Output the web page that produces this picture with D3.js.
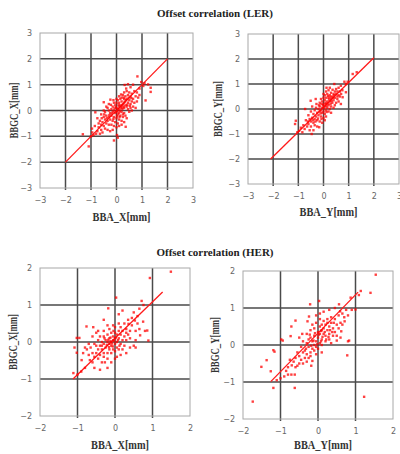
<!DOCTYPE html>
<html><head><meta charset="utf-8">
<script src="https://cdn.jsdelivr.net/npm/d3@7"></script>
<style>body{margin:0;background:#fff}svg{display:block}</style>
</head><body>
<script>
const titles = ["Offset correlation (LER)", "Offset correlation (HER)"];
const ticksLER = [-3,-2,-1,0,1,2,3];
const ticksHER = [-2,-1,0,1,2];
const xLabels = ["BBA_X[mm]", "BBA_Y[mm]", "BBA_X[mm]", "BBA_Y[mm]"];
const yLabels = ["BBGC_X[mm]", "BBGC_Y[mm]", "BBGC_X[mm]", "BBGC_Y[mm]"];
const fitLines = [
  [[-2,-2],[2,2]],
  [[-2.1,-2.0],[2.0,2.05]],
  [[-1.12,-1.0],[1.27,1.35]],
  [[-1.26,-0.99],[1.07,1.43]]
];
const lerX = [[0.82,1.32],[0.97,1.1],[1.24,1.01],[1.34,0.88],[1.34,0.72],[1.14,0.39],[0.32,0.99],[-1.32,-0.92],[-1.09,-1.39],[-0.1,-1.16],[-0.96,-0.7],[-0.83,-0.07],[-0.5,0.32],[-0.24,0.42],[0.05,-1.05],[0.02,-0.95],[1.05,0.95],[0.9,0.85],[1.1,1.05],[0.65,1.0],[0.45,1.02],[0.55,0.9],[0.38,0.85],
[0.7,0.75],[0.8,0.7],[0.6,0.65],[0.75,0.55],[0.5,0.7],[0.85,0.5],[0.65,0.45],[0.55,0.55],[0.45,0.6],[0.4,0.75],[0.3,0.7],[0.35,0.55],[0.6,0.35],[0.7,0.3],[0.5,0.4],[0.45,0.3],[0.8,0.35],[0.25,0.6],[0.2,0.5],[0.3,0.45],[0.4,0.45],[0.55,0.25],[0.65,0.15],[0.75,0.1],[0.9,0.6],
[0.1,0.3],[0.15,0.2],[0.2,0.35],[0.25,0.25],[0.3,0.3],[0.35,0.2],[0.4,0.15],[0.45,0.05],[0.3,0.1],[0.2,0.1],[0.1,0.15],[0.05,0.05],[0.0,0.1],[-0.05,0.2],[0.0,0.3],[0.05,0.4],[0.15,0.45],[0.1,0.55],[-0.1,0.3],[-0.15,0.15],[-0.2,0.05],[-0.1,0.0],[0.0,-0.05],[0.1,-0.1],[0.2,-0.05],[0.3,-0.1],[0.35,-0.2],[0.25,-0.25],[0.15,-0.2],[0.05,-0.15],[-0.05,-0.1],[-0.15,-0.05],[-0.25,-0.1],[-0.3,0.0],[-0.35,0.1],[-0.2,-0.2],[-0.1,-0.25],[0.0,-0.3],[0.1,-0.35],[0.2,-0.4],[-0.3,-0.25],[-0.4,-0.2],[-0.45,-0.05],[-0.25,-0.35],[-0.15,-0.4],[-0.05,-0.45],[0.05,-0.5],[-0.35,-0.4],[-0.45,-0.35],[-0.5,-0.25],[-0.55,-0.45],[-0.4,-0.5],[-0.3,-0.55],[-0.2,-0.55],[-0.1,-0.6],[0.0,-0.65],[0.1,-0.6],[0.2,-0.55],[0.3,-0.45],[0.36,-0.63],[-0.6,-0.55],[-0.65,-0.4],[-0.5,-0.6],[-0.45,-0.7],[-0.7,-0.65],[-0.6,-0.75],[-0.75,-0.8],[-0.8,-0.9],[-0.65,-0.9],[-0.55,-0.85],[-0.35,-0.75],[-0.25,-0.8],[-0.15,-0.75],[-0.85,-0.6],[-0.7,-0.5],[-0.75,-0.3],[-0.6,-0.15],[-0.5,0.0],[-0.4,0.15],[-0.3,0.25],[0.5,-0.05],[0.55,0.1],[0.6,0.0],[0.4,-0.3],[0.12,0.05],[0.18,0.15],[0.22,0.2],[0.28,0.15],[0.08,0.22],[-0.02,0.12],[0.03,-0.02],[0.13,-0.02],[0.23,0.05],[0.33,0.35],[0.38,0.4],[0.28,0.5],[0.18,0.62],[0.48,0.5],[0.58,0.48],[0.52,0.18],[0.42,0.22],[-0.08,0.08],[-0.18,-0.12],[-0.28,-0.18],[-0.12,-0.32],[0.02,-0.22],[0.12,-0.25],[0.25,-0.15],[-0.38,-0.3],[-0.48,-0.15],[-0.58,-0.3],[-0.22,0.22],[-0.12,0.4],[0.0,0.45],[-1.0,-1.0],[-0.9,-0.95],[-0.95,-0.85]];
const lerY = [[1.16,1.4],[1.32,1.47],[0.83,1.09],[0.96,1.09],[0.89,1.0],[0.69,0.93],[0.43,1.0],[0.36,0.77],[0.89,0.67],[0.76,0.47],[0.69,0.2],[-1.1,-0.47],[-1.13,-0.6],[-0.97,-0.87],[-1.04,-0.93],[-0.84,-0.93],[-0.47,-1.0],[-0.17,-0.73],[-0.73,0.0],[-0.51,0.33],[-0.31,0.4],
[0.6,0.85],[0.5,0.8],[0.55,0.7],[0.65,0.7],[0.7,0.6],[0.6,0.55],[0.5,0.6],[0.45,0.7],[0.4,0.6],[0.35,0.5],[0.45,0.45],[0.55,0.4],[0.6,0.3],[0.5,0.25],[0.4,0.35],[0.3,0.65],[0.25,0.55],[0.2,0.75],[0.15,0.6],[0.1,0.7],[0.05,0.55],[0.3,0.4],[0.2,0.45],[0.1,0.45],[0.25,0.3],[0.35,0.25],[0.15,0.3],[0.05,0.35],[0.0,0.45],[-0.05,0.3],[-0.1,0.4],[-0.15,0.25],[0.0,0.2],[0.1,0.2],[0.2,0.15],[0.3,0.1],[0.4,0.05],[0.15,0.05],[0.05,0.1],[-0.05,0.05],[-0.15,0.1],[-0.2,0.0],[-0.1,-0.05],[0.0,-0.1],[0.1,-0.05],[0.2,-0.1],[0.3,-0.15],[0.05,-0.2],[-0.05,-0.15],[-0.15,-0.1],[-0.25,-0.15],[-0.3,0.05],[-0.35,-0.05],[-0.2,-0.25],[-0.1,-0.3],[0.0,-0.35],[0.1,-0.3],[-0.3,-0.3],[-0.4,-0.2],[-0.45,-0.35],[-0.35,-0.4],[-0.25,-0.45],[-0.15,-0.5],[-0.05,-0.55],[0.05,-0.45],[-0.4,-0.55],[-0.5,-0.5],[-0.55,-0.4],[-0.6,-0.25],[-0.5,-0.1],[-0.45,0.1],[-0.6,-0.6],[-0.7,-0.45],[-0.65,-0.7],[-0.5,-0.7],[-0.35,-0.65],[-0.25,-0.7],[-0.75,-0.8],[-0.8,-0.65],[-0.55,-0.85],[-0.4,-0.85],[-0.9,-0.75],[0.12,0.12],[0.08,0.25],[0.18,0.22],[0.28,0.2],[-0.02,0.15],[-0.08,0.2],[0.02,0.02],[0.12,-0.12],[-0.12,-0.18],[0.22,0.38],[0.32,0.32],[0.38,0.45],[0.18,0.52],[0.28,0.48],[0.42,0.55],[-0.22,-0.38],[-0.32,-0.5],[-0.18,0.15],[-0.28,0.2],[0.25,0.0],[0.45,0.15],[0.55,0.5],[0.65,0.5],[0.75,0.75],[-0.08,-0.4],[0.0,0.6],[0.12,0.85],[0.25,0.85],[-0.42,-0.45],[-0.62,-0.5]];
const herX = [[1.49,1.9],[0.93,1.73],[0.03,1.2],[-0.18,0.91],[-0.76,0.42],[-1.02,0.11],[-0.95,0.11],[0.71,1.11],[0.76,1.0],[0.86,0.31],[0.89,0.04],[0.67,0.18],[-1.08,-0.15],[-1.02,-0.29],[-0.89,-0.49],[-1.11,-0.84],[-0.27,-0.55],[-0.67,-0.49],[-0.58,0.4],[0.36,0.49],[0.53,0.58],[-0.85,-0.3],[-0.75,-0.2],[0.5,0.8],[0.45,0.65],[0.6,0.5],[0.55,0.3],[0.65,0.35],[0.75,0.55],[0.8,0.3],[0.5,-0.1],[0.55,-0.15],[0.2,0.85],[0.1,0.75],[-0.3,0.6],[-0.45,0.3],[-0.6,0.15],[-0.7,-0.05],[-0.8,-0.15],[-0.55,-0.7],[-0.4,-0.75],[-0.2,-0.7],[0.05,-0.4],[0.15,-0.35],[0.3,-0.3],[0.4,-0.15],
[-0.1,0.0],[-0.05,0.05],[0.0,0.1],[-0.15,-0.05],[-0.2,0.0],[-0.1,-0.1],[0.0,-0.05],[0.05,0.0],[0.1,0.1],[0.15,0.2],[0.05,0.2],[-0.05,0.15],[-0.15,0.1],[-0.25,0.05],[-0.3,-0.05],[-0.25,-0.15],[-0.15,-0.2],[-0.05,-0.2],[0.05,-0.15],[0.15,-0.05],[0.2,0.05],[0.25,0.15],[0.2,0.3],[0.1,0.3],[0.0,0.25],[-0.1,0.25],[-0.2,0.2],[-0.3,0.15],[-0.35,0.0],[-0.4,-0.1],[-0.35,-0.2],[-0.3,-0.3],[-0.2,-0.3],[-0.1,-0.3],[0.0,-0.25],[0.1,-0.2],[-0.45,-0.2],[-0.5,-0.3],[-0.4,-0.35],[-0.3,-0.4],[-0.2,-0.45],[-0.45,-0.45],[-0.55,-0.4],[-0.6,-0.3],[-0.5,-0.1],[-0.45,0.05],[-0.4,0.15],[-0.3,0.3],[-0.15,0.35],[0.0,0.4],[0.15,0.4],[0.3,0.35],[0.35,0.2],[0.3,0.05],[0.25,-0.1],[0.2,-0.2],[0.3,0.25],[0.4,0.3],[0.4,0.1],[0.45,0.45],[0.25,0.5],[0.1,0.5],[-0.05,0.45],[-0.2,0.45],[-0.12,0.02],[-0.08,-0.04],[-0.02,0.03],[-0.18,0.06],[-0.22,-0.08],[-0.12,0.12],[0.02,0.12],[0.08,0.05],[-0.06,-0.12],[-0.16,-0.14],[-0.28,0.1],[-0.04,0.3],[0.12,-0.1],[-0.35,-0.1],[-0.65,-0.15],[-0.7,-0.35],[-0.6,-0.55],[-0.35,-0.55],[0.0,-0.45],[-0.1,-0.55],[-0.5,0.25],[-0.55,-0.05],[0.6,0.7],[0.35,0.6],[0.65,0.9],[0.55,0.05],[-1.0,-0.88],[-0.9,-0.8],[-0.8,-0.7]];
const herY = [[1.54,1.9],[1.4,1.41],[1.14,1.46],[1.09,1.35],[0.87,1.28],[0.56,1.1],[-0.21,1.1],[0.03,1.19],[-0.6,0.66],[-0.98,0.15],[-0.94,0.12],[-1.19,-0.14],[-1.16,-0.18],[-1.37,-0.41],[-1.51,-0.59],[-1.26,-0.71],[-1.19,-1.16],[-0.62,-1.16],[-0.8,-0.8],[-0.71,-0.8],[-0.62,-0.8],[0.83,0.12],[0.8,0.1],[0.78,-0.28],[1.23,-1.4],[-1.74,-1.53],[0.59,0.91],[0.71,0.64],[0.62,0.37],[0.5,0.12],[-0.15,-0.43],[-0.18,-0.56],[-0.55,-0.56],[-0.42,0.3],[-0.5,0.2],[-0.73,0.24],[-0.71,0.5],[-0.24,0.77],[-0.28,0.64],[1.0,0.96],[0.9,0.95],[0.45,1.0],[0.3,0.95],
[0.0,0.2],[0.05,0.3],[0.1,0.4],[-0.05,0.1],[-0.1,0.0],[-0.15,0.1],[-0.2,0.2],[-0.1,0.25],[0.0,0.35],[0.05,0.5],[0.15,0.45],[0.2,0.55],[0.25,0.4],[0.3,0.5],[0.35,0.6],[0.4,0.45],[0.3,0.3],[0.2,0.25],[0.1,0.15],[0.15,0.3],[0.05,0.05],[-0.05,-0.05],[-0.15,-0.1],[-0.25,-0.05],[-0.3,0.05],[-0.25,0.15],[-0.35,-0.15],[-0.3,-0.25],[-0.2,-0.2],[-0.1,-0.15],[0.0,-0.1],[0.1,0.0],[0.2,0.1],[0.3,0.15],[0.4,0.25],[0.45,0.35],[0.5,0.55],[0.45,0.7],[0.35,0.75],[0.25,0.7],[0.15,0.65],[0.05,0.7],[-0.05,0.6],[-0.1,0.45],[-0.2,0.4],[-0.3,0.3],[-0.4,0.1],[-0.45,-0.05],[-0.4,-0.2],[-0.5,-0.3],[-0.45,-0.4],[-0.35,-0.35],[-0.25,-0.35],[-0.6,-0.35],[-0.55,-0.2],[-0.65,-0.45],[-0.7,-0.55],[-0.6,-0.6],[-0.5,-0.5],[-0.4,-0.5],[-0.3,-0.45],[-0.8,-0.6],[-0.75,-0.4],[-0.85,-0.7],[-0.9,-0.85],[-1.0,-0.9],[-1.1,-0.95],[0.55,0.8],[0.65,0.85],[0.7,0.75],[0.6,0.6],[0.55,0.45],[0.65,0.55],[0.8,0.8],[0.75,0.95],[0.05,0.85],[0.15,0.9],[-0.05,0.8],[0.22,0.15],[0.12,0.22],[0.02,0.28],[-0.08,0.32],[0.08,0.38],[0.18,0.35],[0.28,0.22],[0.38,0.35],[-0.12,0.12],[-0.02,0.02],[0.08,0.1],[-0.18,-0.02],[-0.22,0.28],[-0.32,-0.1],[0.32,0.4],[0.42,0.6],[0.25,0.6],[0.1,0.55],[-0.15,0.55],[0.35,0.05],[0.5,0.25],[0.6,0.2],[-0.05,-0.25],[0.1,-0.2],[-0.2,-0.3]];

const W = 400, H = 454;
const svg = d3.select("body").append("svg").attr("width", W).attr("height", H);

const panels = [
  {data: lerX, ticks: ticksLER, box: {l:40, r:193, t:33, b:188}, xl: 221, yl: 14, line: fitLines[0], xLab: xLabels[0], yLab: yLabels[0]},
  {data: lerY, ticks: ticksLER, box: {l:248, r:399, t:34, b:184}, xl: 216, yl: 218, line: fitLines[1], xLab: xLabels[1], yLab: yLabels[1]},
  {data: herX, ticks: ticksHER, box: {l:40, r:190, t:268, b:416}, xl: 449, yl: 13, line: fitLines[2], xLab: xLabels[2], yLab: yLabels[2]},
  {data: herY, ticks: ticksHER, box: {l:243, r:393, t:271, b:419}, xl: 449, yl: 215, line: fitLines[3], xLab: xLabels[3], yLab: yLabels[3]}
];

const serif = "'Liberation Serif', 'DejaVu Serif', serif";
[[titles[0], 17], [titles[1], 256]].forEach(([t, yy]) => {
  svg.append("text").attr("x", 215).attr("y", yy).attr("text-anchor", "middle")
    .attr("font-family", serif).attr("font-weight", "bold").attr("font-size", 11)
    .attr("fill", "#222").text(t);
});

panels.forEach(p => {
  const dom = d3.extent(p.ticks);
  const x = d3.scaleLinear().domain(dom).range([p.box.l, p.box.r]);
  const y = d3.scaleLinear().domain(dom).range([p.box.b, p.box.t]);
  const g = svg.append("g");

  const inner = p.ticks.slice(1, -1);
  g.selectAll(".gx").data(inner).join("line")
    .attr("x1", d => x(d)).attr("x2", d => x(d)).attr("y1", p.box.t).attr("y2", p.box.b + 2)
    .attr("stroke", "#4a4a4a").attr("stroke-width", 1.5);
  g.selectAll(".gy").data(inner).join("line")
    .attr("y1", d => y(d)).attr("y2", d => y(d)).attr("x1", p.box.l).attr("x2", p.box.r)
    .attr("stroke", "#4a4a4a").attr("stroke-width", 1.5);
  g.append("rect").attr("x", p.box.l).attr("y", p.box.t)
    .attr("width", p.box.r - p.box.l).attr("height", p.box.b - p.box.t)
    .attr("fill", "none").attr("stroke", "#a8a8a8").attr("stroke-width", 1);

  const fmt = d => d < 0 ? "\u2212" + Math.abs(d) : d;
  const xa = d3.axisBottom(x).tickValues(p.ticks).tickSize(0).tickPadding(9).tickFormat(fmt);
  const ya = d3.axisLeft(y).tickValues(p.ticks).tickSize(0).tickPadding(8).tickFormat(fmt);
  const gx = g.append("g").attr("transform", `translate(0,${p.box.b})`).call(xa);
  const gy = g.append("g").attr("transform", `translate(${p.box.l},0)`).call(ya);
  [gx, gy].forEach(a => {
    a.select(".domain").remove();
    a.selectAll("text").attr("font-family", "'DejaVu Sans', sans-serif").attr("font-size", 8).attr("fill", "#666");
  });

  g.append("line")
    .attr("x1", x(p.line[0][0])).attr("y1", y(p.line[0][1]))
    .attr("x2", x(p.line[1][0])).attr("y2", y(p.line[1][1]))
    .attr("stroke", "#ff1a1a").attr("stroke-width", 1.3);

  g.selectAll(".pt").data(p.data).join("rect")
    .attr("x", d => x(d[0]) - 1.2).attr("y", d => y(d[1]) - 1.2)
    .attr("width", 2.4).attr("height", 2.4)
    .attr("fill", "#ff0000").attr("fill-opacity", 0.75);

  g.append("text").attr("x", (p.box.l + p.box.r) / 2 + 5).attr("y", p.xl)
    .attr("text-anchor", "middle").attr("font-family", serif).attr("font-weight", "bold")
    .attr("font-size", 12).attr("fill", "#333")
    .attr("textLength", 58).attr("lengthAdjust", "spacingAndGlyphs").text(p.xLab);
  g.append("text").attr("transform", `translate(${p.yl},${(p.box.t + p.box.b) / 2}) rotate(-90)`)
    .attr("text-anchor", "middle").attr("dy", "0.35em").attr("font-family", serif).attr("font-weight", "bold")
    .attr("font-size", 12).attr("fill", "#333")
    .attr("textLength", 56).attr("lengthAdjust", "spacingAndGlyphs").text(p.yLab);
});
</script>
</body></html>
